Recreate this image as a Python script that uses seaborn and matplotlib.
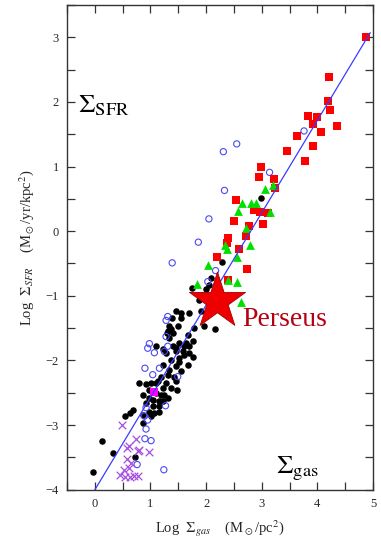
import pandas as pd
import matplotlib.pyplot as plt
import seaborn as sns
from matplotlib.ticker import MultipleLocator

# --- Data ---
red_x = [4.87, 4.21, 4.20, 4.23, 4.36, 3.84, 4.00, 3.92, 4.06, 3.64, 3.92, 3.78, 3.46, 2.99, 2.95,
         3.22, 3.24, 2.53, 2.86, 2.96, 3.11, 3.02, 2.50, 2.77, 2.40, 2.37, 2.72, 2.59, 2.19, 2.74, 2.40]
red_y = [3.00, 2.39, 2.01, 1.87, 1.63, 1.78, 1.77, 1.66, 1.54, 1.47, 1.31, 1.09, 1.24, 1.00, 0.84,
         0.81, 0.67, 0.48, 0.33, 0.29, 0.28, 0.11, 0.16, 0.08, -0.10, -0.18, -0.08, -0.27, -0.40, -0.58, -0.75]

green_x = [3.06, 3.20, 2.58, 2.64, 2.80, 2.90, 3.14, 2.34, 2.38, 2.72, 2.79, 2.56, 2.04, 1.83, 2.40, 2.55, 2.62]
green_y = [0.65, 0.71, 0.31, 0.43, 0.43, 0.44, 0.29, -0.22, -0.28, 0.05, -0.21, -0.40, -0.53, -0.81, -0.76, -0.79, -1.09]

black_x = [2.99, 2.59, 2.28, 2.08, 2.05, 1.74, 1.99, 1.93, 1.88, 1.90, 1.70, 1.55, 1.46, 1.55, 1.39,
           1.49, 1.37, 1.31, 1.40, 1.79, 1.67, 1.96, 2.16, 1.33, 1.52, 1.64, 1.76, 1.10, 1.22, 1.45,
           1.70, 1.58, 1.76, 1.70, 1.61, 1.28, 1.46, 1.52, 1.37, 1.22, 1.46, 1.55, 1.67, 1.61, 1.52,
           1.19, 1.31, 1.43, 1.13, 1.28, 1.46, 1.34, 0.80, 0.92, 0.98, 1.22, 1.37, 1.47, 0.86, 0.98,
           1.19, 1.31, 0.92, 1.04, 1.15, 1.22, 1.10, 0.68, 0.63, 0.54, 0.98, 1.07, 0.86, 1.01, 0.87,
           1.16, 1.04, -0.04, 0.13, 0.32, 0.73, 1.40, 1.34, 1.30, 1.01, 1.10, 1.25, 1.16]
black_y = [0.51, -0.26, -0.48, -0.72, -0.83, -0.88, -0.90, -0.98, -1.06, -1.24, -1.26, -1.26, -1.24, -1.34, -1.34,
           -1.47, -1.52, -1.55, -1.57, -1.50, -1.60, -1.47, -1.51, -1.65, -1.73, -1.73, -1.70, -1.78, -1.83, -1.81,
           -1.78, -1.86, -1.94, -1.88, -1.78, -1.88, -1.86, -1.96, -1.99, -2.07, -2.09, -2.17, -2.07, -1.92, -2.02,
           -2.25, -2.22, -2.25, -2.32, -2.35, -2.32, -2.14, -2.35, -2.37, -2.45, -2.43, -2.43, -2.45, -2.53, -2.58,
           -2.53, -2.58, -2.66, -2.71, -2.71, -2.63, -2.50, -2.76, -2.81, -2.86, -2.79, -2.81, -2.84, -2.86, -2.97,
           -2.79, -2.61, -3.73, -3.25, -3.43, -3.50, -1.78, -1.47, -1.57, -2.35, -2.35, -2.53, -2.63]

blue_x = [2.31, 2.55, 3.76, 3.14, 2.33, 2.05, 1.86, 1.39, 2.17, 2.03, 1.31, 1.28, 1.28, 0.98, 0.95, 1.07,
          1.25, 1.31, 0.90, 1.04, 1.16, 1.49, 0.92, 1.27, 0.89, 0.95, 0.92, 0.90, 1.01, 0.76, 1.24]
blue_y = [1.23, 1.35, 1.55, 0.91, 0.63, 0.19, -0.17, -0.49, -0.61, -0.78, -1.32, -1.38, -1.63, -1.74, -1.81, -1.88,
          -1.86, -1.78, -2.12, -2.22, -2.12, -2.25, -2.73, -2.70, -2.86, -2.92, -3.06, -3.21, -3.24, -3.61, -3.69]

purple_x = [0.49, 0.74, 0.58, 0.61, 0.77, 0.79, 0.98, 0.57, 0.65, 0.61, 0.52, 0.45, 0.54, 0.63, 0.71, 0.77]
purple_y = [-3.00, -3.22, -3.35, -3.33, -3.40, -3.38, -3.42, -3.53, -3.59, -3.66, -3.69, -3.77, -3.80, -3.80, -3.79, -3.78]

magenta_x = [1.07]
magenta_y = [-2.48]

perseus_x = [2.2]
perseus_y = [-1.08]

fit_x = [0.0, 4.95]
fit_y = [-4.0, 3.07]

# --- Plot ---
sns.set_style("ticks")
plt.rcParams['font.family'] = ['Liberation Serif', 'DejaVu Serif']
plt.rcParams['mathtext.fontset'] = 'stix'

fig = plt.figure(figsize=(3.81, 5.43), dpi=100)
ax = fig.add_axes([0.176, 0.098, 0.803, 0.893])

sns.scatterplot(x=black_x, y=black_y, ax=ax, color='black', marker='o', s=22, linewidth=0, zorder=3)
sns.scatterplot(x=blue_x, y=blue_y, ax=ax, marker='o', s=20, facecolor='none',
                edgecolor='#4a4af0', linewidth=0.8, zorder=3)
sns.scatterplot(x=purple_x, y=purple_y, ax=ax, color='#a64ee0', marker='x', s=30, linewidth=0.9, zorder=3)
sns.scatterplot(x=red_x, y=red_y, ax=ax, color='#ff0000', marker='s', s=36, linewidth=0, zorder=3)
sns.scatterplot(x=green_x, y=green_y, ax=ax, color='#00e000', marker='^', s=40, linewidth=0, zorder=3)
sns.scatterplot(x=magenta_x, y=magenta_y, ax=ax, color='#ff00ff', marker='s', s=40, linewidth=0, zorder=4)
sns.lineplot(x=fit_x, y=fit_y, ax=ax, color='#3b3bff', linewidth=0.9, zorder=5)
sns.scatterplot(x=perseus_x, y=perseus_y, ax=ax, color='#ee0000', marker='*', s=1800,
                edgecolor='#a00000', linewidth=0.6, zorder=6)

ax.text(-0.3, 1.83, r'$\Sigma_{\rm SFR}$', fontsize=19, color='black')
ax.text(3.25, -3.74, r'$\Sigma_{\rm gas}$', fontsize=19, color='black')
ax.text(2.64, -1.46, 'Perseus', fontsize=20, color='#b30012')

ax.set_xlim(-0.5, 5)
ax.set_ylim(-4, 3.5)
ax.xaxis.set_major_locator(MultipleLocator(1))
ax.xaxis.set_minor_locator(MultipleLocator(0.5))
ax.yaxis.set_major_locator(MultipleLocator(1))
ax.yaxis.set_minor_locator(MultipleLocator(0.5))
ax.tick_params(which='both', direction='in', top=True, right=True, length=6, width=0.9,
               color='#333333', labelsize=9, pad=6)
for sp in ax.spines.values():
    sp.set_linewidth(1.0)
    sp.set_color('#333333')

ax.set_xlabel(r'Log  $\Sigma_{gas}$    (M$_\odot$/pc$^2$)', fontsize=10.5, labelpad=6)
ax.set_ylabel(r'Log  $\Sigma_{SFR}$    (M$_\odot$/yr/kpc$^2$)', fontsize=10.5, labelpad=7)

plt.savefig('out.png', dpi=100)
